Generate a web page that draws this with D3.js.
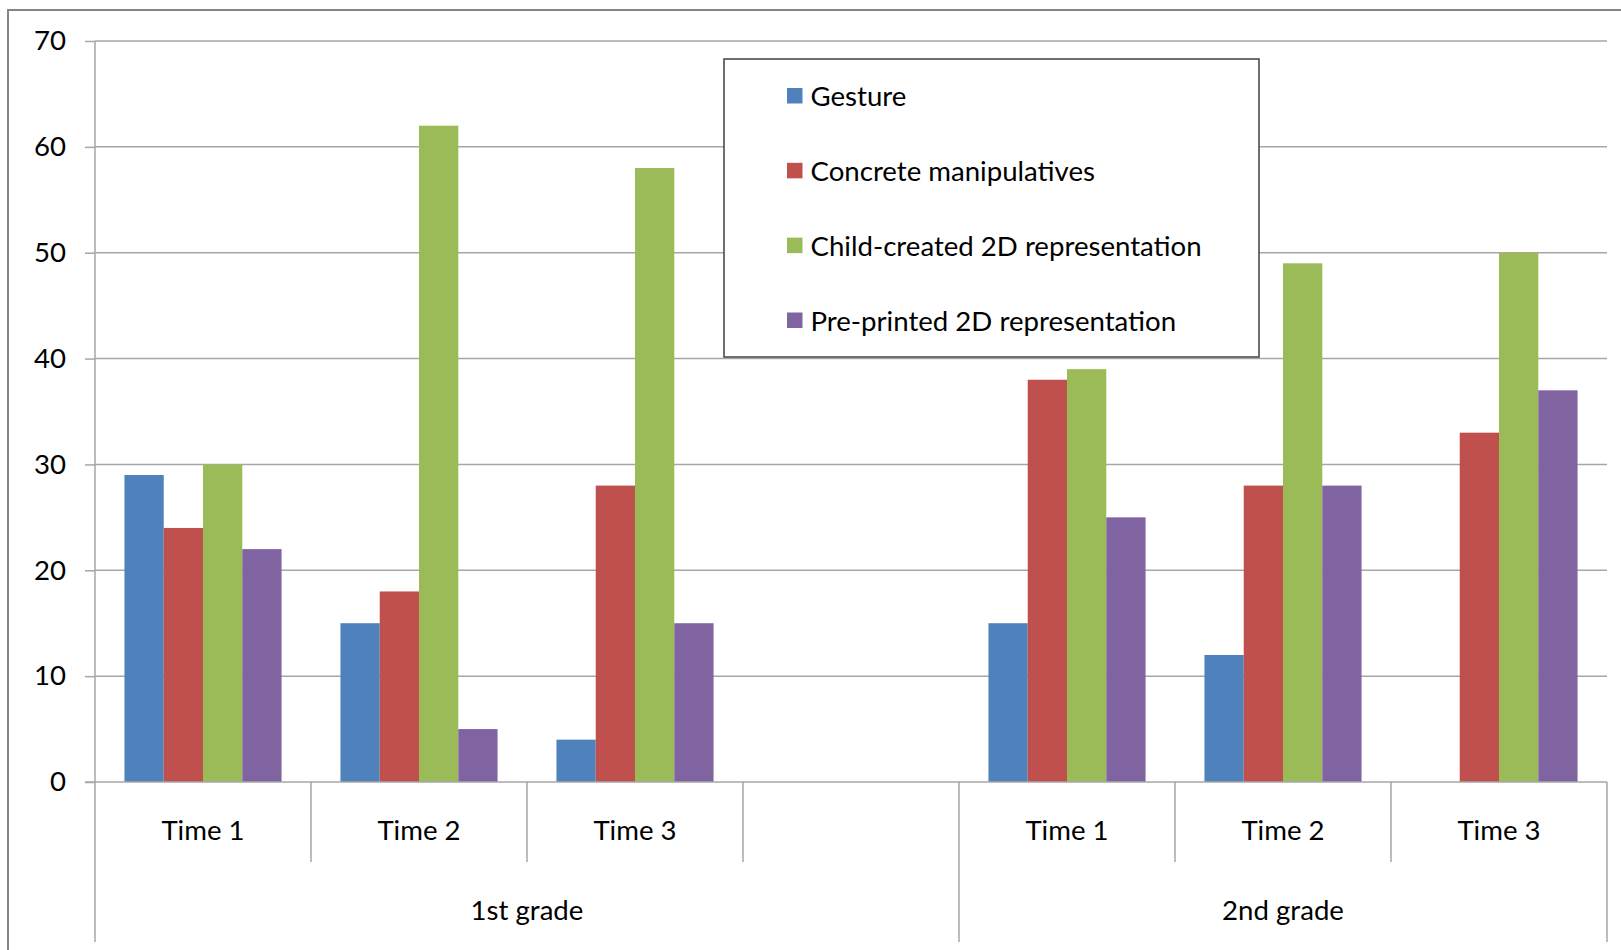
<!DOCTYPE html>
<html>
<head>
<meta charset="utf-8">
<script src="https://cdn.jsdelivr.net/npm/d3@7"></script>
<style>
  html, body { margin: 0; padding: 0; background: #fff; }
  svg { display: block; font-family: Lato, "Open Sans", sans-serif; }
</style>
</head>
<body>
<svg id="chart" width="1621" height="950"></svg>
<script>
// Category slots: 1st grade has a trailing empty slot before 2nd grade
const slots = ["g1t1", "g1t2", "g1t3", "g1gap", "g2t1", "g2t2", "g2t3"];
const slotLabels = ["Time 1", "Time 2", "Time 3", "", "Time 1", "Time 2", "Time 3"];
const groups = ["1st grade", "2nd grade"];
const groupSlots = [["g1t1", "g1gap"], ["g2t1", "g2t3"]];

const series = ["Gesture", "Concrete manipulatives", "Child-created 2D representation", "Pre-printed 2D representation"];
const colors = ["#4F81BD", "#C0504D", "#9BBB59", "#8064A2"];

const gesture  = [29, 15, 4, null, 15, 12, 0];
const concrete = [24, 18, 28, null, 38, 28, 33];
const child    = [30, 62, 58, null, 39, 49, 50];
const preprint = [22, 5, 15, null, 25, 28, 37];
const values = [gesture, concrete, child, preprint];

const yTicks = [0, 10, 20, 30, 40, 50, 60, 70];

const svg = d3.select("#chart");
const m = { left: 95, right: 1607, top: 41, bottom: 782 };
const fontSize = 27.6;

// outer chart frame (runs off the right and bottom edges)
svg.append("rect")
  .attr("x", 8).attr("y", 10)
  .attr("width", 1640).attr("height", 980)
  .attr("fill", "none").attr("stroke", "#858585").attr("stroke-width", 2);

const y = d3.scaleLinear().domain([0, 70]).range([m.bottom, m.top]);
const x0 = d3.scaleBand().domain(slots).range([m.left, m.right]).paddingInner(0).paddingOuter(0);
const x1 = d3.scaleBand().domain(series).range([0, x0.bandwidth()]).paddingInner(0).paddingOuter(0.75);

// horizontal gridlines
svg.append("g")
  .selectAll("line")
  .data(yTicks.filter(d => d > 0))
  .join("line")
  .attr("x1", m.left).attr("x2", m.right)
  .attr("y1", d => y(d)).attr("y2", d => y(d))
  .attr("stroke", "#a6a6a6").attr("stroke-width", 1.5);

// value axis
const yAxis = svg.append("g")
  .attr("transform", `translate(${m.left},0)`)
  .call(d3.axisLeft(y).tickValues(yTicks).tickSize(10).tickPadding(19));
yAxis.select(".domain").remove();
yAxis.selectAll(".tick line").attr("stroke", "#a6a6a6").attr("stroke-width", 1.5);
yAxis.selectAll(".tick text")
  .attr("fill", "#000").style("font-size", fontSize + "px")
  .style("font-family", "Lato, sans-serif");

// bars
const barG = svg.append("g");
series.forEach((s, si) => {
  barG.append("g")
    .selectAll("rect")
    .data(slots.map((slot, i) => ({ slot, v: values[si][i] })).filter(d => d.v))
    .join("rect")
    .attr("x", d => x0(d.slot) + x1(s))
    .attr("width", x1.bandwidth())
    .attr("y", d => y(d.v))
    .attr("height", d => y(0) - y(d.v))
    .attr("fill", colors[si]);
});

// baseline and vertical axis line
svg.append("line")
  .attr("x1", m.left - 10).attr("x2", m.right)
  .attr("y1", y(0)).attr("y2", y(0))
  .attr("stroke", "#a6a6a6").attr("stroke-width", 1.5);

const catLine = "#a6a6a6";
const axisBottom = 942;
const slotTickEnd = 862;

// slot separators
svg.append("g")
  .selectAll("line")
  .data(slots.slice(1))
  .join("line")
  .attr("x1", d => x0(d)).attr("x2", d => x0(d))
  .attr("y1", y(0)).attr("y2", d => (d === "g2t1" ? axisBottom : slotTickEnd))
  .attr("stroke", catLine).attr("stroke-width", 1.5);

// outer group lines
[m.left, m.right].forEach(xv => {
  svg.append("line")
    .attr("x1", xv).attr("x2", xv)
    .attr("y1", xv === m.left ? m.top : y(0)).attr("y2", axisBottom)
    .attr("stroke", catLine).attr("stroke-width", 1.5);
});

// slot labels
svg.append("g")
  .selectAll("text")
  .data(slots)
  .join("text")
  .attr("x", d => x0(d) + x0.bandwidth() / 2)
  .attr("y", 829)
  .attr("text-anchor", "middle")
  .attr("dominant-baseline", "central")
  .style("font-size", fontSize + "px")
  .attr("fill", "#000")
  .text((d, i) => slotLabels[i]);

// group labels
svg.append("g")
  .selectAll("text")
  .data(groups)
  .join("text")
  .attr("x", (d, i) => (x0(groupSlots[i][0]) + x0(groupSlots[i][1]) + x0.bandwidth()) / 2)
  .attr("y", 909)
  .attr("text-anchor", "middle")
  .attr("dominant-baseline", "central")
  .style("font-size", fontSize + "px")
  .attr("fill", "#000")
  .text(d => d);

// legend
const legend = svg.append("g");
legend.append("rect")
  .attr("x", 724).attr("y", 59)
  .attr("width", 535).attr("height", 298)
  .attr("fill", "#fff").attr("stroke", "#404040").attr("stroke-width", 1.5);
const rowY = d3.scalePoint().domain(series).range([96, 320.5]);
const items = legend.selectAll("g.item")
  .data(series)
  .join("g")
  .attr("class", "item")
  .attr("transform", d => `translate(787,${rowY(d)})`);
items.append("rect")
  .attr("x", 0).attr("y", -8)
  .attr("width", 15.5).attr("height", 15.5)
  .attr("fill", (d, i) => colors[i]);
items.append("text")
  .attr("x", 23.5).attr("y", -0.5)
  .attr("dominant-baseline", "central")
  .style("font-size", fontSize + "px")
  .attr("fill", "#000")
  .text(d => d);
</script>
</body>
</html>
